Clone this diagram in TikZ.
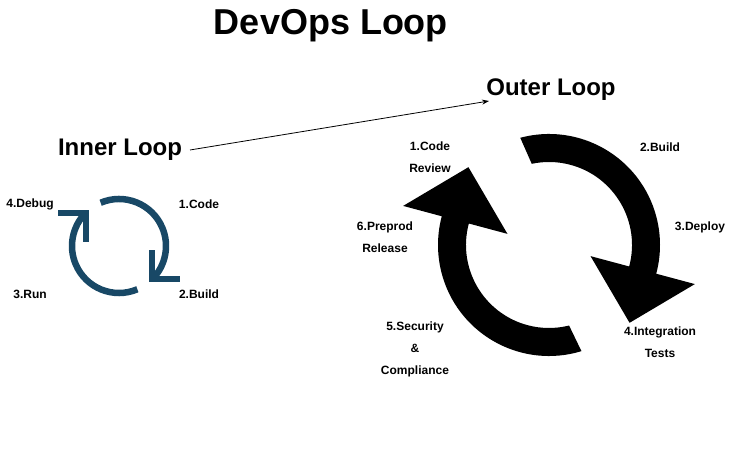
\documentclass[tikz,border=0pt]{standalone}
\usepackage{fontspec}
\setmainfont{Liberation Sans}
\usetikzlibrary{calc,arrows.meta}
\definecolor{iconblue}{RGB}{24,72,102}
\tikzset{
  lbl/.style={font=\fontsize{12}{22}\selectfont\bfseries, align=center, inner sep=0pt},
  head/.style={font=\fontsize{24}{28}\selectfont\bfseries, inner sep=0pt},
  ttl/.style={font=\fontsize{36}{40}\selectfont\bfseries, inner sep=0pt},
  iconarc/.style={draw=iconblue, line width=6.5pt},
  chev/.style={draw=iconblue, line width=5.5pt, miter limit=10, line join=miter},
  bigarrow/.style={fill=black}
}
\begin{document}
\begin{tikzpicture}[x=1pt,y=1pt]
\useasboundingbox (0,0) rectangle (753,449);
% titles
\node[ttl] (title) at (331,423) {DevOps Loop};
\node[head] (inner) at (120,299) {Inner Loop};
\node[head] (outer) at (551,359) {Outer Loop};
\coordinate (afrom) at (190,299);
\coordinate (ato) at (489,348);
\draw[-{Stealth[length=7pt,width=5pt]}, line width=0.8pt] (afrom) -- (ato);

% inner loop icon
\coordinate (ic) at (119,203);
\draw[iconarc] ($(ic)+(113:47)$) arc[start angle=113, end angle=-45, radius=47];
\coordinate (ich1) at ($(ic)+(-45:47)$);
\draw[chev] ($(ich1)+(0,29)$) -- (ich1) -- ($(ich1)+(28,0)$);
\draw[iconarc] ($(ic)+(-67:47)$) arc[start angle=-67, end angle=-225, radius=47];
\coordinate (ich2) at ($(ic)+(135:47)$);
\draw[chev] ($(ich2)+(0,-29)$) -- (ich2) -- ($(ich2)+(-28,0)$);

\node[lbl] (i4) at (30,245) {4.Debug};
\node[lbl] (i1) at (199,245) {1.Code};
\node[lbl] (i3) at (30,155) {3.Run};
\node[lbl] (i2) at (199,155) {2.Build};

% outer loop
\coordinate (oc) at (549,204);
\fill[bigarrow] ($(oc)+(105:111)$) arc[start angle=105, end angle=-15, radius=111]
  -- ($(oc)+(-15:151)$) -- ($(oc)+(-44:112)$) -- ($(oc)+(-15:43)$)
  -- ($(oc)+(-15:83)$) arc[start angle=-15, end angle=102, radius=83] -- cycle;
\fill[bigarrow] ($(oc)+(-73:111)$) arc[start angle=-73, end angle=-195, radius=111]
  -- ($(oc)+(165:151)$) -- ($(oc)+(136:112)$) -- ($(oc)+(165:43)$)
  -- ($(oc)+(165:83)$) arc[start angle=165, end angle=284, radius=83] -- cycle;

\node[lbl] (o1) at (430,292) {1.Code\\Review};
\node[lbl] (o2) at (660,302) {2.Build};
\node[lbl] (o3) at (700,222) {3.Deploy};
\node[lbl] (o4) at (660,107) {4.Integration\\Tests};
\node[lbl] (o5) at (415,100) {5.Security\\\&\\Compliance};
\node[lbl] (o6) at (385,212) {6.Preprod\\Release};
\end{tikzpicture}
\end{document}
